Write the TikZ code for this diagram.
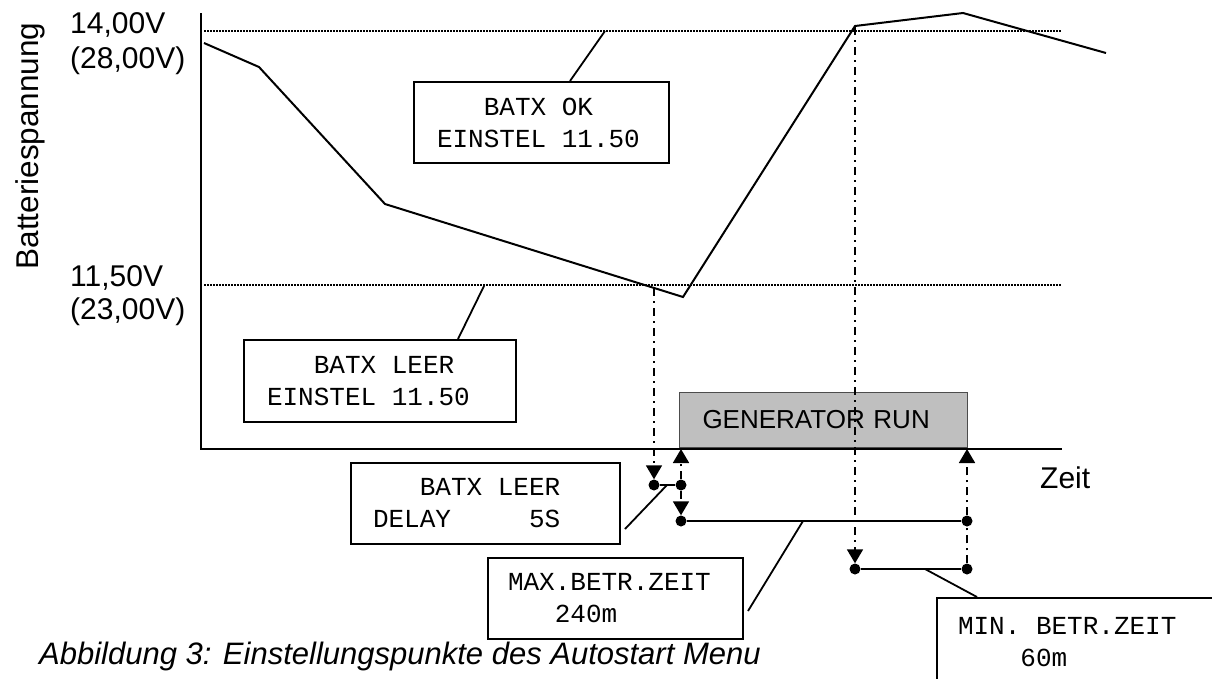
\documentclass[tikz,border=0pt]{standalone}
\usepackage{fontspec}
\setmainfont{Liberation Sans}
\newfontfamily\lcdfont{Liberation Mono}
\usetikzlibrary{arrows.meta,calc}

\newcommand\lcdsp{\hphantom{0}}

\tikzset{
  lbl/.style={inner sep=0pt, font=\fontsize{30}{35}\selectfont},
  lcdbox/.style={draw, line width=2pt, anchor=north west, align=left,
    inner ysep=0pt, font=\lcdfont\fontsize{26}{32}\selectfont},
  joint/.style={circle, fill, inner sep=0pt, minimum size=11pt},
  dashdot/.style={line width=1.8pt, dash pattern=on 8pt off 5pt on 2pt off 5pt},
  vlevel/.style={line width=1.3pt, dash pattern=on 1.5pt off 1.5pt},
  arr/.style={-{Triangle[length=14pt,width=16pt]}},
  thin line/.style={line width=1.8pt}
}

\begin{document}
\begin{tikzpicture}[x=1pt,y=-1pt]
\useasboundingbox (0,0) rectangle (1212,678);
\clip (0,0) rectangle (1212,678);

% axes and levels
\draw[line width=2.5pt] (201,13) -- (201,449) -- (1062,449);
\draw[vlevel] (204,31) -- (1062,31);
\draw[vlevel] (204,285) -- (1062,285);

\node[lbl, anchor=base west] (u14) at (70,33) {14,00V};
\node[lbl, anchor=base west] (u28) at (70,68) {(28,00V)};
\node[lbl, anchor=base west] (u115) at (70,286) {11,50V};
\node[lbl, anchor=base west] (u23) at (70,319) {(23,00V)};
\node[lbl, rotate=90, anchor=base, font=\fontsize{31.5}{35}\selectfont] (ylab)
  at (38,146) {Batteriespannung};
\node[lbl, anchor=base west] (xlab) at (1040,488) {Zeit};

% battery voltage
\draw[line width=2pt] (204,43) -- (259,67) -- (385,204) -- (683,297)
  -- (855,26) -- (963,13) -- (1106,53);

%-------------------------------------
\node[draw=black!70, line width=1pt, fill=black!25, text width=242pt,
  inner xsep=23pt, align=left, minimum height=55pt, anchor=south west,
  font=\fontsize{26}{30}\selectfont] (gen) at (679,448) {GENERATOR RUN};

\node[lcdbox, text width=209pt, inner xsep=23pt, minimum height=81pt] (bok)
  at (413,81) {\lcdsp\lcdsp\lcdsp BATX\lcdsp OK\\EINSTEL\lcdsp 11.50};
\node[lcdbox, text width=226pt, inner xsep=23pt, minimum height=82pt] (bleer)
  at (243,339) {\lcdsp\lcdsp\lcdsp BATX\lcdsp LEER\\EINSTEL\lcdsp 11.50};
\node[lcdbox, text width=225pt, inner xsep=22pt, minimum height=81pt] (bdelay)
  at (350,462) {\lcdsp\lcdsp\lcdsp BATX\lcdsp LEER\\DELAY\lcdsp\lcdsp\lcdsp\lcdsp\lcdsp 5S};
\node[lcdbox, text width=215pt, inner xsep=20pt, minimum height=81pt] (bmax)
  at (487,557) {MAX.BETR.ZEIT\\\lcdsp\lcdsp\lcdsp 240m};
\node[lcdbox, text width=260pt, inner xsep=21pt, minimum height=88pt] (bmin)
  at (936,597) {MIN.\lcdsp BETR.ZEIT\\\lcdsp\lcdsp\lcdsp\lcdsp 60m};

% timing
\coordinate (lo) at (654,288);
\coordinate (pk) at (855,27);
\coordinate (a1) at (681,449);
\coordinate (a2) at (967,449);
\node[joint] (d1) at (654,485) {};
\node[joint] (d2) at (681,485) {};
\node[joint] (d3) at (681,521) {};
\node[joint] (d4) at (967,521) {};
\node[joint] (d5) at (855,569) {};
\node[joint] (d6) at (967,569) {};

\draw[dashdot, arr] (lo) -- (d1.north);
\draw[dashdot, arr] (d2) -- (a1);
\draw[dashdot, arr] (d2) -- (d3.north);
\draw[dashdot, arr] (pk) -- (d5.north);
\draw[dashdot] (d6) -- (d4);
\draw[dashdot, arr] (d4) -- (a2);
\draw[thin line] (d1) -- (d2);
\draw[thin line] (d3) -- (d4);
\draw[thin line] (d5) -- (d6);

% leaders to the boxes
\coordinate (k1) at (605,31);
\coordinate (k2) at (484,286);
\coordinate (k3) at (667,485);
\coordinate (k4) at (803,521);
\coordinate (k5) at (925,569);
\draw[thin line] (k1) -- ($(bok.north west)+(157,0)$);
\draw[thin line] (k2) -- ($(bleer.north west)+(215,0)$);
\draw[thin line] (k3) -- ($(bdelay.north east)+(4,67)$);
\draw[thin line] (k4) -- ($(bmax.north east)+(4,54)$);
\draw[thin line] (k5) -- ($(bmin.north west)+(41,0)$);

\node[lbl, anchor=base west, font=\itshape\fontsize{31}{36}\selectfont] (cap)
  at (39,664) {Abbildung 3: Einstellungspunkte des Autostart Menu};
\end{tikzpicture}
\end{document}
